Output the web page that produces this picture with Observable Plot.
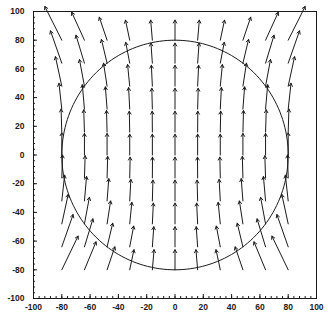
<!DOCTYPE html>
<html><head><meta charset="utf-8">
<script src="https://cdn.jsdelivr.net/npm/d3@7"></script>
<script src="https://cdn.jsdelivr.net/npm/@observablehq/plot@0.6"></script>
<style>body{margin:0;background:#fff} svg{display:block}</style>
</head><body><div id="chart"></div>
<script>
// grid of arrow origins
const xs = [-80, -64, -48, -32, -16, 0, 16, 32, 48, 64, 80];
const ys = [80, 64, 48, 32, 16, 0, -16, -32, -48, -64, -80];
// horizontal component of each arrow (rows follow ys, columns follow xs)
const dxRows = [
  [-12, -9, -5.5, -3, -1.2, 0, 1.2, 3, 5.5, 9, 12],
  [-8, -6, -4, -2.8, -1, 0, 1, 2.8, 4, 6, 8],
  [-4.5, -3.5, -2.5, -1.5, -0.7, 0, 0.7, 1.5, 2.5, 3.5, 4.5],
  [-2, -1.5, -1.2, -0.8, -0.4, 0, 0.4, 0.8, 1.2, 1.5, 2],
  [-0.5, -0.5, -0.4, -0.3, -0.1, 0, 0.1, 0.3, 0.4, 0.5, 0.5],
  [0, 0, 0, 0, 0, 0, 0, 0, 0, 0, 0],
  [0.5, 0.5, 0.4, 0.3, 0.1, 0, -0.1, -0.3, -0.4, -0.5, -0.5],
  [2, 1.5, 1.2, 0.8, 0.4, 0, -0.4, -0.8, -1.2, -1.5, -2],
  [4.5, 3.5, 2.5, 1.5, 0.7, 0, -0.7, -1.5, -2.5, -3.5, -4.5],
  [8, 6, 4, 2.8, 1, 0, -1, -2.8, -4, -6, -8],
  [11.5, 8.2, 5.5, 3, 1.2, 0, -1.2, -3, -5.5, -8.2, -11.5]
];
// vertical component of each arrow
const dyRows = [
  [23.5, 19.5, 16, 14, 14, 14, 14, 14, 16, 19.5, 23.5],
  [22.5, 19.5, 16.5, 14.5, 14, 14, 14, 14.5, 16.5, 19.5, 22.5],
  [20.5, 18.5, 16, 15, 14.5, 14.5, 14.5, 15, 16, 18.5, 20.5],
  [18, 17, 15.5, 15, 14.5, 14.5, 14.5, 15, 15.5, 17, 18],
  [16, 15.5, 15, 14.5, 14.5, 14.5, 14.5, 14.5, 15, 15.5, 16],
  [15.5, 15, 15, 14.5, 14.5, 14.5, 14.5, 14.5, 15, 15, 15.5],
  [16, 15.5, 15, 14.5, 14.5, 14.5, 14.5, 14.5, 15, 15.5, 16],
  [18, 17, 15.5, 15, 14.5, 14.5, 14.5, 15, 15.5, 17, 18],
  [20.5, 18.5, 16, 15, 14.5, 14.5, 14.5, 15, 16, 18.5, 20.5],
  [22.5, 19.5, 16.5, 14.5, 14, 14, 14, 14.5, 16.5, 19.5, 22.5],
  [23.5, 19.5, 16, 14, 14, 14, 14, 14, 16, 19.5, 23.5]
];
const circleRadius = 80;
const majorTicks = [-100, -80, -60, -40, -20, 0, 20, 40, 60, 80, 100];
const minorTicks = d3.range(-100, 101, 4);

const arrows = ys.flatMap((y, j) => xs.map((x, i) => ({
  x1: x, y1: y, x2: x + dxRows[j][i], y2: y + dyRows[j][i]
})));
const circle = d3.range(0, 361, 2).map(a => ({
  x: circleRadius * Math.cos(a * Math.PI / 180),
  y: circleRadius * Math.sin(a * Math.PI / 180)
}));

const ink = "#1a1a1a";
const chart = Plot.plot({
  width: 328, height: 318,
  marginLeft: 33, marginRight: 12, marginTop: 11, marginBottom: 20,
  x: {domain: [-100, 100], label: null},
  y: {domain: [-100, 100], label: null},
  style: {fontFamily: "'Liberation Sans', Arial, sans-serif", fontSize: "8.5px", fontWeight: "bold", color: ink, background: "#fff"},
  marks: [
    Plot.frame({stroke: ink}),
    Plot.axisX(minorTicks, {anchor: "bottom", tickSize: -2, tickFormat: () => "", stroke: ink}),
    Plot.axisX(majorTicks, {anchor: "bottom", tickSize: -4, tickFormat: () => "", stroke: ink}),
    Plot.axisX(majorTicks, {anchor: "bottom", tickSize: 0, tickPadding: 5, tickFormat: d => String(d)}),
    Plot.axisY(minorTicks, {anchor: "left", tickSize: -2, tickFormat: () => "", stroke: ink}),
    Plot.axisY(majorTicks, {anchor: "left", tickSize: -4, tickFormat: () => "", stroke: ink}),
    Plot.axisY(majorTicks, {anchor: "left", tickSize: 0, tickPadding: 9, tickFormat: d => String(d)}),
    Plot.line(circle, {x: "x", y: "y", stroke: ink, strokeWidth: 1}),
    Plot.arrow(arrows, {x1: "x1", y1: "y1", x2: "x2", y2: "y2", stroke: ink, strokeWidth: 1, headLength: 5, headAngle: 60})
  ]
});
document.getElementById("chart").append(chart);
</script>
</body></html>
